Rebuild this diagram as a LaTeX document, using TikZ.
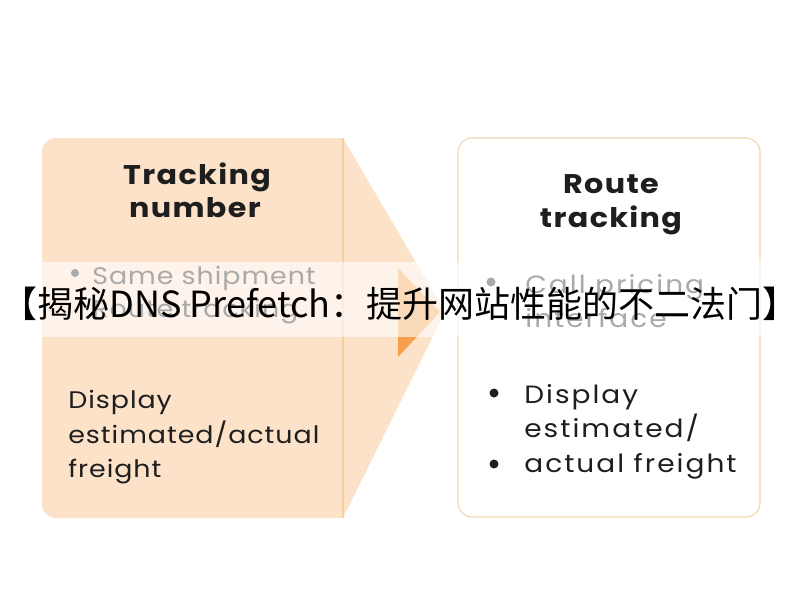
\documentclass[tikz,border=0pt]{standalone}
\usepackage{fontspec}
\setmainfont{Poppins}
\newfontfamily\cjkfont{Noto Sans CJK SC}
\definecolor{peach}{HTML}{FDE2CA}
\definecolor{peachline}{HTML}{F7CDA4}
\definecolor{arroworange}{HTML}{F6A04C}
\definecolor{boxedge}{HTML}{F1D6B3}
\definecolor{inktext}{HTML}{1E1E1E}
\tikzset{every picture/.style={line width=0.75pt}}
\tikzset{
  headtext/.style={font=\fontsize{27}{30}\selectfont\bfseries\addfontfeatures{FakeStretch=1.12,LetterSpace=5}, text=inktext, inner sep=0pt, anchor=base},
  lefttext/.style={font=\fontsize{24}{30}\selectfont\addfontfeatures{FakeStretch=1.12,LetterSpace=4}, text=inktext, inner sep=0pt, anchor=base west},
  righttext/.style={font=\fontsize{25}{30}\selectfont\addfontfeatures{FakeStretch=1.12,LetterSpace=8}, text=inktext, inner sep=0pt, anchor=base west},
  dotmark/.style={circle, fill=inktext, inner sep=0pt, minimum size=9pt}
}

\begin{document}
\begin{tikzpicture}[x=1pt,y=1pt,yscale=-1,xscale=1]
        \useasboundingbox (0,0) rectangle (800,600);
        % left panel, shaped as an arrow
        \fill[peach] (445,312) -- (343,518) -- (56,518) arc[start angle=90,end angle=180,radius=14]
            -- (42,152) arc[start angle=180,end angle=270,radius=14] -- (343,138) -- cycle;
        \draw[peachline, line width=1.5pt] (343,138) -- (343,518);
        \fill[arroworange] (398,268) -- (398,357) -- (440,312) -- cycle;
        % right panel
        \draw[boxedge, line width=1.2pt, rounded corners=14pt] (458,138) rectangle (760,517);

        \node[headtext] (trk1) at (197,184) {Tracking};
        \node[headtext] (trk2) at (195,217) {number};
        \node[dotmark, minimum size=8pt] (sdot) at (75,273) {};
        \node[lefttext] (same1) at (92,284) {Same shipment};
        \node[lefttext] (same2) at (92,317) {Route tracking};
        \node[lefttext] (ldisp1) at (68,408) {Display};
        \node[lefttext] (ldisp2) at (68,443) {estimated/actual};
        \node[lefttext] (ldisp3) at (68,477) {freight};

        \node[headtext] (rt1) at (611,193) {Route};
        \node[headtext] (rt2) at (611,227) {tracking};
        \node[dotmark] (cdot) at (491,282) {};
        \node[righttext] (call1) at (525,293) {Call pricing};
        \node[righttext] (call2) at (525,327) {interface};
        \node[dotmark] (ddot) at (494,393) {};
        \node[righttext] (rdisp1) at (524,403) {Display};
        \node[righttext] (rdisp2) at (524,437) {estimated/};
        \node[dotmark] (adot) at (494,464) {};
        \node[righttext] (rdisp3) at (524,472) {actual freight};

        % title banner across the middle
        \fill[white, opacity=0.62] (0,262) rectangle (800,337);
        \node[font=\cjkfont\fontsize{36}{36}\selectfont, text=black, inner sep=0pt, anchor=base] (banner) at (400,317) {【揭秘DNS Prefetch：提升网站性能的不二法门】};
\end{tikzpicture}
\end{document}
